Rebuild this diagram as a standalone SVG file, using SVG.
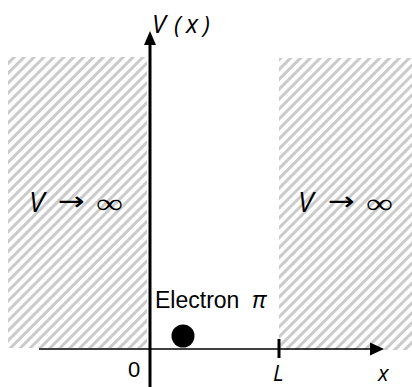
<svg xmlns="http://www.w3.org/2000/svg" width="412" height="387" viewBox="0 0 412 387">
<defs>
<pattern id="hatch" patternUnits="userSpaceOnUse" width="7" height="10" patternTransform="rotate(45)">
<line x1="1.5" y1="0" x2="1.5" y2="10" stroke="#cbcbcb" stroke-width="3"/>
</pattern>
</defs>
<style>
.lbl{font-family:"Open Sans","Liberation Sans",sans-serif;font-style:italic;fill:#000}
.arr{font-family:"DejaVu Sans","Liberation Sans",sans-serif;fill:#000}
.sym{font-family:"Liberation Serif","DejaVu Serif",serif;fill:#000}
.txt{font-family:"Liberation Sans",Arial,sans-serif;fill:#000}
</style>
<rect width="412" height="387" fill="#fff"/>
<g id="wall-left">
<rect x="8" y="57" width="139" height="291" fill="url(#hatch)"/>
<text class="lbl" x="29" y="212" font-size="28" font-weight="500">V</text>
<text class="arr" x="58" y="210" font-size="26" textLength="27" lengthAdjust="spacingAndGlyphs">→</text>
<text class="sym" x="96" y="213" font-size="28" textLength="27" lengthAdjust="spacingAndGlyphs">∞</text>
</g>
<g id="wall-right">
<rect x="279" y="58" width="133" height="292" fill="url(#hatch)"/>
<text class="lbl" x="298" y="212" font-size="28" font-weight="500">V</text>
<text class="arr" x="328" y="210" font-size="26" textLength="27" lengthAdjust="spacingAndGlyphs">→</text>
<text class="sym" x="366" y="213" font-size="28" textLength="27" lengthAdjust="spacingAndGlyphs">∞</text>
</g>
<g id="axes">
<line x1="150" y1="42" x2="150" y2="387" stroke="#000" stroke-width="3"/>
<polygon points="150,31 156,45 144,45" fill="#000"/>
<line x1="39" y1="349" x2="372" y2="349" stroke="#000" stroke-width="1.5"/>
<polygon points="384,349 370,342.5 370,355.5" fill="#000"/>
<line x1="279" y1="339" x2="279" y2="358" stroke="#000" stroke-width="3"/>
</g>
<g id="axis-labels">
<text class="lbl" x="152" y="33" font-size="25" font-weight="500">V</text>
<text class="lbl" x="174" y="33" font-size="24" font-style="normal" fill="#444">(</text>
<text class="lbl" x="186" y="33" font-size="25" font-weight="500">x</text>
<text class="lbl" x="203" y="33" font-size="24" font-style="normal" fill="#444">)</text>
<text class="txt" x="128" y="377" font-size="22">0</text>
<text class="lbl" x="273" y="381" font-size="22" font-weight="500">L</text>
<text class="lbl" x="378" y="381" font-size="22" font-weight="500">x</text>
</g>
<g id="electron">
<text class="txt" x="155" y="308" font-size="23">Electron</text>
<text class="lbl" x="252" y="308" font-size="24">π</text>
<circle cx="183" cy="336" r="11.5" fill="#000"/>
</g>
</svg>
